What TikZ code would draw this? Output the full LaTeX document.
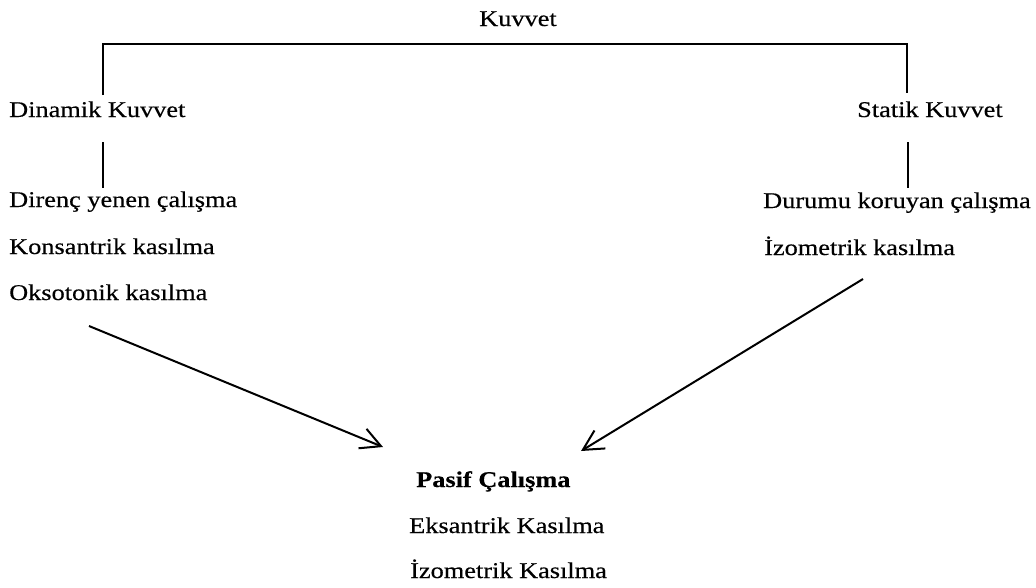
\documentclass[tikz,border=0pt]{standalone}
\usepackage{fontspec}
\setmainfont[FakeStretch=1.17,FakeBold=0.4]{Liberation Serif}
\usetikzlibrary{arrows.meta}
\begin{document}
\begin{tikzpicture}[x=1pt,y=-1pt,
  lbl/.style={anchor=base west,inner sep=0pt,font=\fontsize{22.5}{27}\selectfont},
  ln/.style={line width=1.4pt,black},
  arr/.style={line width=2pt,black,-{Straight Barb[length=20pt,width=21pt,line width=2pt]}}]
\useasboundingbox (0,0) rectangle (1036,587);
% texts
\node[lbl,anchor=base] (kuv) at (518,26) {Kuvvet};
\node[lbl] (din) at (9,117) {Dinamik Kuvvet};
\node[lbl] (sta) at (857,117) {Statik Kuvvet};
\node[lbl] (dir) at (9,207) {Direnç yenen çalışma};
\node[lbl] (kon) at (9,254) {Konsantrik kasılma};
\node[lbl] (oks) at (9,300) {Oksotonik kasılma};
\node[lbl] (dur) at (763,208) {Durumu koruyan çalışma};
\node[lbl] (izo) at (764,255) {İzometrik kasılma};
\node[lbl,font=\fontsize{22.5}{27}\selectfont\bfseries] (pas) at (416,487) {Pasif Çalışma};
\node[lbl] (eks) at (409,533) {Eksantrik Kasılma};
\node[lbl] (izk) at (410,578) {İzometrik Kasılma};
% connector points
\coordinate (lt) at (103,95);
\coordinate (rt) at (907,93);
\coordinate (top) at (518,44);
\coordinate (ls1) at (103,142);
\coordinate (ls2) at (103,188);
\coordinate (rs1) at (908,142);
\coordinate (rs2) at (908,188);
\coordinate (la1) at (89,326);
\coordinate (la2) at (383,447);
\coordinate (ra1) at (863,279);
\coordinate (ra2) at (581,451);
% bracket
\draw[ln] (lt) |- (top) -| (rt);
\draw[ln] (ls1) -- (ls2);
\draw[ln] (rs1) -- (rs2);
% arrows
\draw[arr] (la1) -- (la2);
\draw[arr] (ra1) -- (ra2);
\end{tikzpicture}
\end{document}
